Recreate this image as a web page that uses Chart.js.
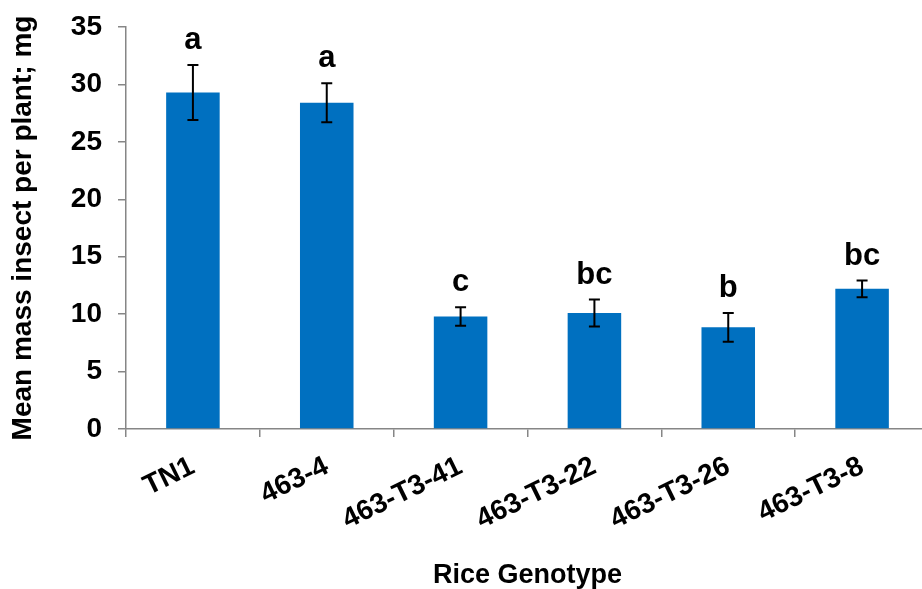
<!DOCTYPE html>
<html>
<head>
<meta charset="utf-8">
<title>Mean mass insect per plant</title>
<script src="https://cdn.jsdelivr.net/npm/chart.js@4"></script>
<style>
  html, body { margin: 0; padding: 0; background: #fff; overflow: hidden; }
  #massChart { display: block; }
</style>
</head>
<body>
<canvas id="massChart" width="940" height="589"></canvas>
<script>
/* ---------- Data ---------- */
const genotypes = ["TN1", "463-4", "463-T3-41", "463-T3-22", "463-T3-26", "463-T3-8"];
const meanMass  = [29.3, 28.4, 9.8, 10.1, 8.85, 12.2];
const errMass   = [2.4, 1.7, 0.8, 1.17, 1.25, 0.72];
const groups    = ["a", "a", "c", "bc", "b", "bc"];
const yTicks    = [0, 5, 10, 15, 20, 25, 30, 35];

const BAR_BLUE  = "#0070C0";
const AXIS_GREY = "#868686";
const FONT      = "Arial, 'Liberation Sans', sans-serif";

/* ---------- Error bars + significance letters ---------- */
const errorBars = {
  id: "errorBars",
  afterDatasetsDraw(chart) {
    const { ctx, scales: { x, y } } = chart;
    ctx.save();
    ctx.strokeStyle = "#000";
    ctx.lineWidth = 2;
    ctx.fillStyle = "#000";
    ctx.font = `bold 31px ${FONT}`;
    ctx.textAlign = "center";
    ctx.textBaseline = "alphabetic";

    meanMass.forEach((m, i) => {
      const cx  = x.getPixelForValue(i);
      const top = y.getPixelForValue(m + errMass[i]);
      const bot = y.getPixelForValue(m - errMass[i]);
      const cap = 5.5;

      ctx.beginPath();
      ctx.moveTo(cx, top);       ctx.lineTo(cx, bot);
      ctx.moveTo(cx - cap, top); ctx.lineTo(cx + cap, top);
      ctx.moveTo(cx - cap, bot); ctx.lineTo(cx + cap, bot);
      ctx.stroke();

      ctx.fillText(groups[i], cx, top - 16);
    });
    ctx.restore();
  }
};

/* ---------- Chart ---------- */
new Chart(document.getElementById("massChart"), {
  type: "bar",
  data: {
    labels: genotypes,
    datasets: [{
      data: meanMass,
      backgroundColor: BAR_BLUE,
      borderWidth: 0,
      barPercentage: 0.4,
      categoryPercentage: 1
    }]
  },
  options: {
    responsive: false,
    animation: false,
    layout: { padding: { top: 27, right: 11, left: 0, bottom: 0 } },
    plugins: {
      legend:  { display: false },
      tooltip: { enabled: false }
    },
    scales: {
      x: {
        offset: true,
        grid: {
          offset: true,
          drawOnChartArea: false,
          drawTicks: true,
          tickLength: 8,
          color: AXIS_GREY,
          lineWidth: 1.5
        },
        border: { color: AXIS_GREY, width: 1.5 },
        ticks: {
          autoSkip: false,
          minRotation: 26,
          maxRotation: 26,
          padding: 13,
          color: "#000",
          font: { family: FONT, size: 28, weight: "bold" }
        },
        title: {
          display: true,
          text: "Rice Genotype",
          color: "#000",
          padding: { top: 0, bottom: 0 },
          font: { family: FONT, size: 27, weight: "bold", lineHeight: 1 }
        },
        afterFit: s => {
          s.height = 160;
          s.paddingLeft = 0;
          s.paddingRight = 0;
        }
      },
      y: {
        min: 0,
        max: 35,
        afterBuildTicks: s => { s.ticks = yTicks.map(v => ({ value: v })); },
        grid: {
          drawOnChartArea: false,
          drawTicks: true,
          tickLength: 8,
          color: AXIS_GREY,
          lineWidth: 1.5
        },
        border: { color: AXIS_GREY, width: 1.5 },
        ticks: {
          padding: 16,
          color: "#000",
          font: { family: FONT, size: 28, weight: "bold" }
        },
        title: {
          display: true,
          text: "Mean mass insect per plant; mg",
          color: "#000",
          padding: { top: 6, bottom: 0 },
          font: { family: FONT, size: 28, weight: "bold", lineHeight: 1.2 }
        },
        afterFit: s => {
          s.width = 126;
          s.paddingTop = 0;
          s.paddingBottom = 0;
        }
      }
    }
  },
  plugins: [errorBars]
});
</script>
</body>
</html>
